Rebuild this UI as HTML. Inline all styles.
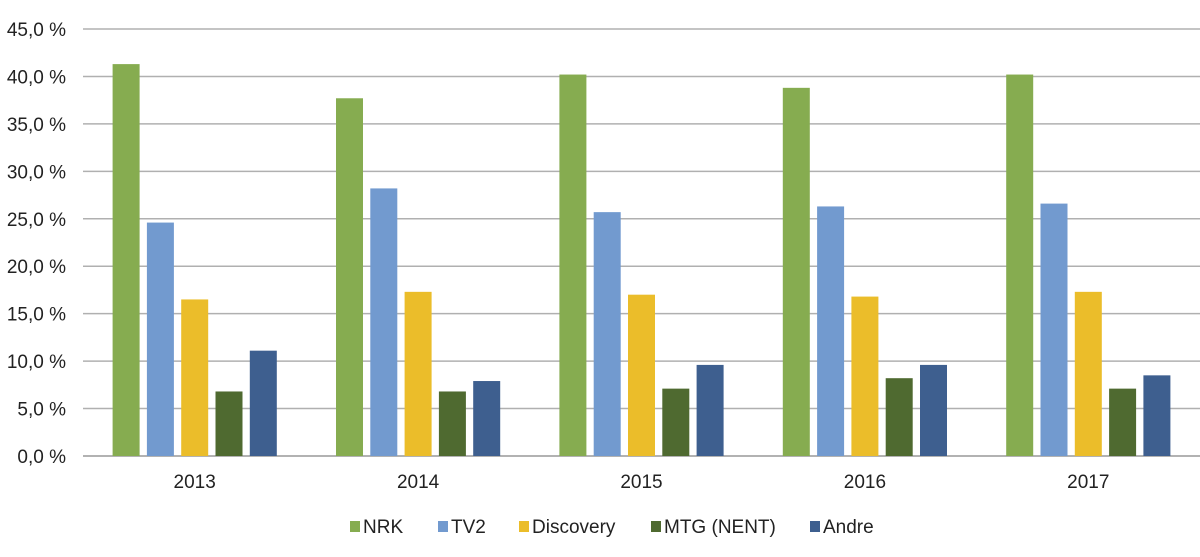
<!DOCTYPE html>
<html><head><meta charset="utf-8"><style>
html,body{margin:0;padding:0;background:#fff;}
svg{display:block;font-family:"Liberation Sans",sans-serif;}
</style></head><body>
<svg id="chart" width="1200" height="557" viewBox="0 0 1200 557"></svg>
<script>
const categories = ["2013","2014","2015","2016","2017"];
const seriesNames = ["NRK","TV2","Discovery","MTG (NENT)","Andre"];
const nrk = [41.3, 37.7, 40.2, 38.8, 40.2];
const tv2 = [24.6, 28.2, 25.7, 26.3, 26.6];
const discovery = [16.5, 17.3, 17.0, 16.8, 17.3];
const mtg = [6.8, 6.8, 7.1, 8.2, 7.1];
const andre = [11.1, 7.9, 9.6, 9.6, 8.5];
const yTicks = [0,5,10,15,20,25,30,35,40,45];
const yTickLabels = ["0,0 %","5,0 %","10,0 %","15,0 %","20,0 %","25,0 %","30,0 %","35,0 %","40,0 %","45,0 %"];

const series = [nrk, tv2, discovery, mtg, andre];
const colors = ["#86ac50","#729acf","#ebbd2a","#4f6a30","#3e5f8f"];
const NS = "http://www.w3.org/2000/svg";
const svg = document.getElementById("chart");
const left = 83, right = 1200, y0 = 456, yTop = 29, yMax = 45;
const y = v => y0 - (v / yMax) * (y0 - yTop);
const band = (right - left) / categories.length;
const xc = i => left + band * (i + 0.5);
const barW = 27, step = 34.3;
function mk(tag, attrs, parent) {
  const e = document.createElementNS(NS, tag);
  for (const k in attrs) e.setAttribute(k, attrs[k]);
  (parent || svg).appendChild(e);
  return e;
}
yTicks.forEach((t, i) => {
  const l = mk("line", {x1: left, x2: right, y1: y(t), y2: y(t), stroke: t === 0 ? "#999" : "#b0b0b0", "stroke-width": 1.5});
  
  
  const tx = mk("text", {x: 66, y: y(t) + 7, "text-anchor": "end", "font-size": 19, fill: "#222"});
  tx.textContent = yTickLabels[i];
  
  
});
categories.forEach((c, i) => {
  series.forEach((s, j) => {
    const bx = xc(i) + (j - 2) * step - barW / 2;
    const r = mk("rect", {x: bx, y: y(s[i]), width: barW, height: y0 - y(s[i]), fill: colors[j]});
    
    
  });
  const tx = mk("text", {x: xc(i), y: 488, "text-anchor": "middle", "font-size": 19, fill: "#222"});
  tx.textContent = c;
  
  
});
const legendX = [350, 438, 519, 651, 810];
seriesNames.forEach((n, j) => {
  const g = mk("g", {});
  
  
  mk("rect", {x: legendX[j], y: 521, width: 10, height: 11, fill: colors[j]}, g);
  const tx = mk("text", {x: legendX[j] + 13, y: 533, "font-size": 19, fill: "#222"}, g);
  tx.textContent = n;
});
</script>
</body></html>
